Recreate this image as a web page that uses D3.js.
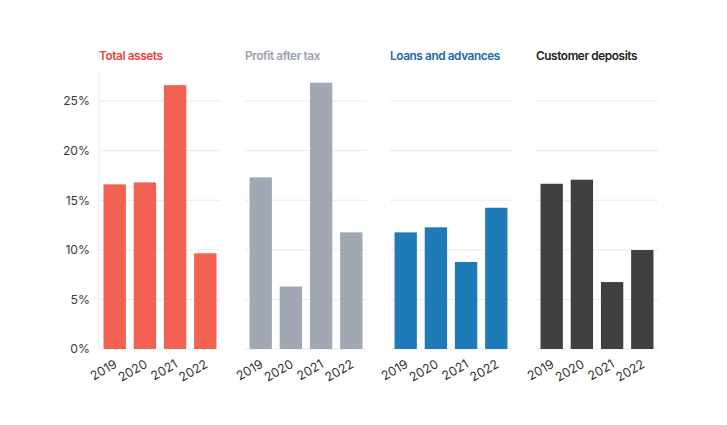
<!DOCTYPE html>
<html><head><meta charset="utf-8">
<script src="https://cdn.jsdelivr.net/npm/d3@7"></script>
<style>body{margin:0;background:#fff}svg{display:block}</style>
</head><body>
<script>
const years = ["2019","2020","2021","2022"];
const titles = ["Total assets","Profit after tax","Loans and advances","Customer deposits"];
const totalAssets = [16.6, 16.8, 26.6, 9.65];
const profitAfterTax = [17.3, 6.3, 26.85, 11.76];
const loansAdvances = [11.76, 12.27, 8.77, 14.24];
const customerDeposits = [16.66, 17.07, 6.75, 9.98];
const yTicks = [0, 5, 10, 15, 20, 25];
const series = [totalAssets, profitAfterTax, loansAdvances, customerDeposits];
const barColors = ["#F26152", "#A1A8B3", "#1F7BB8", "#404040"];
const titleColors = ["#E8453B", "#9AA1AC", "#1669AA", "#222222"];

const W = 727, H = 425;
const svg = d3.select("body").append("svg").attr("width", W).attr("height", H);
const y = d3.scaleLinear().domain([0, 28]).range([349, 71.3]);
const panelLeft = [99, 245, 390, 536];
const panelW = 122;

series.forEach((vals, i) => {
  const g = svg.append("g");
  const x = d3.scaleBand().domain(years).range([panelLeft[i], panelLeft[i] + panelW])
    .paddingInner(0.26).paddingOuter(0.15);
  g.selectAll("line.grid").data(yTicks).join("line")
    .attr("x1", panelLeft[i]).attr("x2", panelLeft[i] + panelW)
    .attr("y1", d => y(d)).attr("y2", d => y(d))
    .attr("stroke", "#ebebeb").attr("stroke-width", 1);
  if (i === 0) {
    g.append("line").attr("x1", panelLeft[i]).attr("x2", panelLeft[i])
      .attr("y1", y(28)).attr("y2", y(0)).attr("stroke", "#ebebeb");
    g.selectAll("text.yt").data(yTicks).join("text")
      .attr("x", panelLeft[i] - 9).attr("y", d => y(d)).attr("dy", "0.35em")
      .attr("text-anchor", "end").attr("font-family", "Inter, sans-serif")
      .attr("font-size", 12.2).attr("fill", "#3a3a3a").text(d => d + "%");
  }
  g.selectAll("rect").data(vals).join("rect")
    .attr("x", (d, j) => x(years[j])).attr("width", x.bandwidth())
    .attr("y", d => y(d)).attr("height", d => y(0) - y(d))
    .attr("fill", barColors[i]);
  g.selectAll("text.xt").data(years).join("text")
    .attr("transform", d => `translate(${x(d) + x.bandwidth() / 2 - 1},${y(0) + 10}) rotate(-30)`)
    .attr("text-anchor", "end").attr("dy", "0.7em")
    .attr("font-family", "Inter, sans-serif").attr("font-size", 12.5).attr("fill", "#333")
    .text(d => d);
  g.append("text").attr("x", panelLeft[i]).attr("y", 60)
    .attr("font-family", "Inter, sans-serif").attr("font-weight", 600)
    .attr("font-size", 11.8).attr("fill", titleColors[i]).attr("letter-spacing", -0.4)
    .text(titles[i]);
});
</script>
</body></html>
